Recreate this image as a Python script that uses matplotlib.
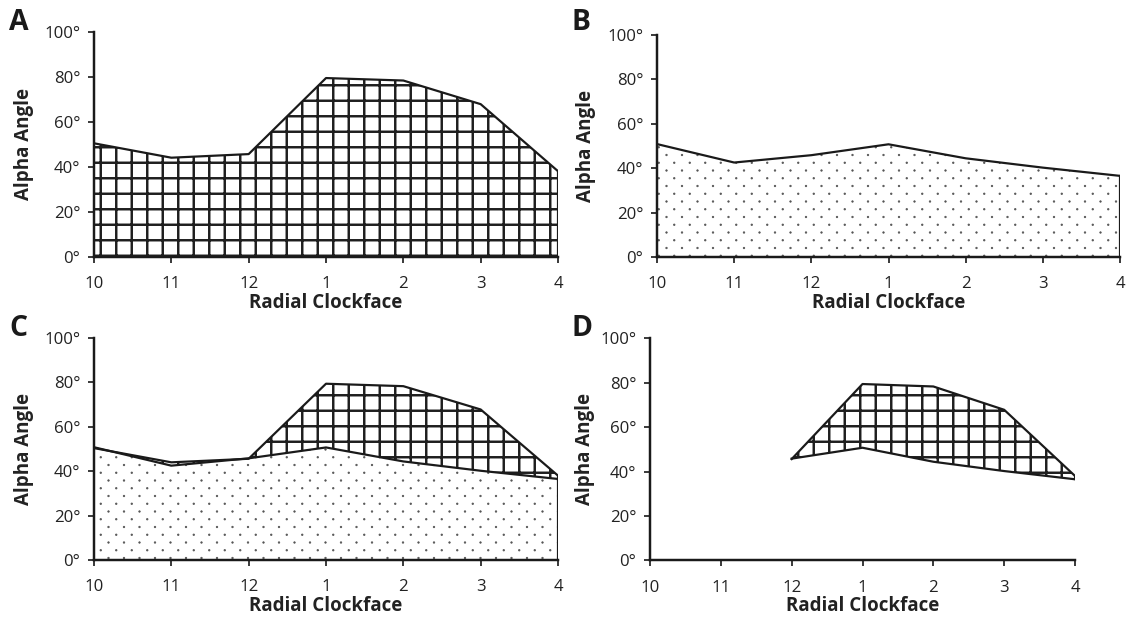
import numpy as np
import matplotlib
matplotlib.use("Agg")
import matplotlib.pyplot as plt
import matplotlib.hatch as mhatch
from matplotlib.path import Path

# ---------------- data ----------------
clock_labels = ["10", "11", "12", "1", "2", "3", "4"]
series_grid = [50.4, 44.0, 45.6, 79.4, 78.3, 67.8, 38.0]   # grid-hatched profile
series_dots = [50.8, 42.5, 45.8, 50.7, 44.4, 40.2, 36.5]   # dotted profile
y_ticks = [0, 20, 40, 60, 80, 100]
y_ticklabels = ["0°", "20°", "40°", "60°", "80°", "100°"]
panel_letters = ["A", "B", "C", "D"]
d_start_label = "12"

# ---------------- custom staggered dot hatch ----------------
class StaggerDots(mhatch.HatchPatternBase):
    def __init__(self, hatch, density):
        self.ncols = hatch.count('.') * density
        circle = Path.unit_circle()
        self.cv = circle.vertices
        self.cc = circle.codes
        if self.ncols == 0:
            self.num_vertices = 0
            self.pts = []
            return
        nrows = 2 * self.ncols
        pts = []
        for r in range(nrows + 1):
            yy = r / nrows
            if r % 2 == 0:
                xs = np.linspace(0, 1, self.ncols + 1)
            else:
                xs = np.linspace(0.5 / self.ncols, 1 - 0.5 / self.ncols, self.ncols)
            for xx in xs:
                pts.append((xx, yy))
        self.pts = pts
        self.num_vertices = len(pts) * len(self.cv)

    def set_vertices_and_codes(self, vertices, codes):
        n = len(self.cv)
        rad = 0.008
        cur = 0
        for (xx, yy) in self.pts:
            vertices[cur:cur + n] = self.cv * rad + (xx, yy)
            codes[cur:cur + n] = self.cc
            cur += n

mhatch._hatch_types = [StaggerDots if t is mhatch.SmallFilledCircles else t
                       for t in mhatch._hatch_types]

# ---------------- figure ----------------
DPI = 93
W, H = 1130, 621
plt.rcParams['font.family'] = ['Open Sans', 'DejaVu Sans']
plt.rcParams['hatch.linewidth'] = 1.9
fig = plt.figure(figsize=(W / DPI, H / DPI), dpi=DPI)

def px_axes(l, r, t, b):
    return fig.add_axes([l / W, 1 - b / H, (r - l) / W, (b - t) / H])

boxes = [
    (94, 558, 31.7, 256.7),
    (657, 1120, 34.7, 257.0),
    (94, 558, 338.0, 560.0),
    (650, 1075, 338.3, 560.3),
]
letter_pos = [(9, 23), (572, 22), (9, 329), (571, 328)]
ylabel_x = [24, 586, 24, 585]

x = np.arange(len(clock_labels))
top = np.array(series_grid)
bot = np.array(series_dots)

GRID_C = "#1e1e1e"
DOT_C = "#555555"
LINE_C = "#1a1a1a"
LW = 1.7
HLW = 1.9

def set_hlw(coll, lw):
    if hasattr(coll, "set_hatch_linewidth"):
        coll.set_hatch_linewidth(lw)

for i, (l, r, t, b) in enumerate(boxes):
    ax = px_axes(l, r, t, b)
    if i == 0:
        c = ax.fill_between(x, 0, top, facecolor="white", edgecolor=GRID_C, linewidth=0, hatch="+")
        set_hlw(c, HLW)
        ax.plot(x, top, color=LINE_C, lw=LW)
        ax.plot([x[-1], x[-1]], [0, top[-1]], color=LINE_C, lw=LW)
    elif i == 1:
        c = ax.fill_between(x, 0, bot, facecolor="white", edgecolor=DOT_C, linewidth=0, hatch=".")
        set_hlw(c, 0.6)
        ax.plot(x, bot, color=LINE_C, lw=LW)
        ax.plot([x[-1], x[-1]], [0, bot[-1]], color=LINE_C, lw=LW)
    elif i == 2:
        c = ax.fill_between(x, 0, top, facecolor="white", edgecolor=GRID_C, linewidth=0, hatch="+")
        set_hlw(c, HLW)
        c2 = ax.fill_between(x, 0, bot, facecolor="white", edgecolor=DOT_C, linewidth=0, hatch=".")
        set_hlw(c2, 0.6)
        ax.plot(x, top, color=LINE_C, lw=LW)
        ax.plot(x, bot, color=LINE_C, lw=LW)
        ax.plot([x[-1], x[-1]], [0, max(top[-1], bot[-1])], color=LINE_C, lw=LW)
    else:
        k = clock_labels.index(d_start_label)
        xs = x[k:]
        c = ax.fill_between(xs, bot[k:], top[k:], facecolor="white", edgecolor=GRID_C, linewidth=0, hatch="+")
        set_hlw(c, HLW)
        ax.plot(xs, top[k:], color=LINE_C, lw=LW)
        ax.plot(xs, bot[k:], color=LINE_C, lw=LW)
        ax.plot([xs[0], xs[0]], [bot[k], top[k]], color=LINE_C, lw=LW)
        ax.plot([xs[-1], xs[-1]], [bot[-1], top[-1]], color=LINE_C, lw=LW)

    ax.set_xlim(0, len(x) - 1)
    ax.set_ylim(0, 100)
    ax.set_xticks(x)
    ax.set_xticklabels(clock_labels)
    ax.set_yticks(y_ticks)
    ax.set_yticklabels(y_ticklabels)
    for s in ["top", "right"]:
        ax.spines[s].set_visible(False)
    for s in ["left", "bottom"]:
        ax.spines[s].set_linewidth(1.9)
        ax.spines[s].set_color("#1a1a1a")
    ax.tick_params(axis="both", direction="out", length=5, width=1.3, colors="#1a1a1a",
                   labelsize=13, labelcolor="#222222")
    ax.tick_params(axis="x", pad=10)
    ax.tick_params(axis="y", pad=5.5)
    ax.set_xlabel("Radial Clockface", fontsize=14.5, fontweight="bold", color="#222222")
    ax.set_ylabel("Alpha Angle", fontsize=14.5, fontweight="bold", color="#222222")
    ax.xaxis.set_label_coords(0.5, -46.0 / (b - t))
    ax.xaxis.label.set_va("center")
    ax.yaxis.set_label_coords((ylabel_x[i] - l) / (r - l), 0.5)
    ax.yaxis.label.set_va("center")
    ax.yaxis.label.set_ha("center")
    ax.set_facecolor("none")
    lx, ly = letter_pos[i]
    fig.text(lx / W, 1 - ly / H, panel_letters[i], fontsize=22, fontweight="bold",
             ha="left", va="center", color="#1a1a1a")

fig.savefig("out.png", dpi=DPI)
